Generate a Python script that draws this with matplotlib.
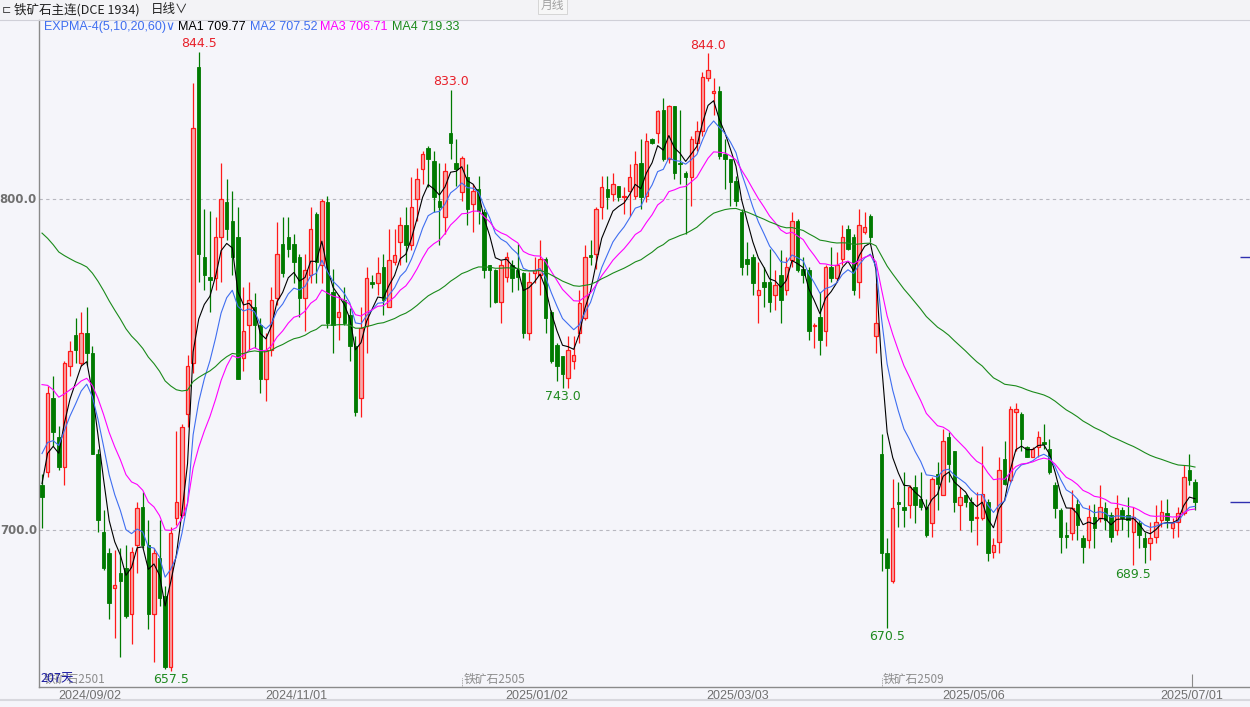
import numpy as np
import matplotlib
matplotlib.use("Agg")
import matplotlib.pyplot as plt
from matplotlib.patches import Rectangle
from matplotlib.lines import Line2D

plt.rcParams['font.family'] = ['Noto Sans CJK SC', 'DejaVu Sans']

W, H = 1250, 707

# daily OHLC, iron ore main contract
opens = [713.5, 717.5, 740, 728, 719, 749.5, 759, 750.5, 759.5, 753.5,
         723, 699.5, 693, 682.5, 687, 688.5, 674.5, 695.5, 707, 695.5,
         674.5, 691.5, 680, 658.5, 703.5, 704.5, 735, 750.5, 840, 782.5,
         776.5, 776, 788.5, 799, 793.5, 788.5,
         752, 762, 767.5, 762, 745.5, 754.5, 770, 786.5, 788.5, 786.5,
         782.5, 770, 777, 795.5, 780, 799, 772, 764.5, 769.5, 765,
         755.5, 740, 761.5, 774.8, 774.5, 779.5, 767.5, 781, 787, 792,
         786, 800, 809, 815.5, 811.5,
         799.5, 794.5, 820, 811, 802, 806.5, 798.5, 803, 796, 780,
         778.5, 769, 776.5, 780, 778.5, 777.5, 759.5, 777.5, 777, 782,
         766, 756, 752.5, 746, 751, 759.5, 764, 783, 783.5, 797.5,
         803, 801.5, 804, 800.5, 802.5, 801,
         811, 801, 818, 820, 827, 812, 828, 811, 808, 806.5,
         817, 820.5, 836.5, 832, 832.5, 813.5, 812, 805.5, 796, 782,
         782.5, 771, 775, 775, 771, 777, 772.5, 781.5, 793.5, 779,
         778.5, 761.5, 764.5, 760, 779.5, 776,
         782, 791, 788.5, 775, 790, 795, 758.5, 723, 693, 684.5,
         708.5, 707, 707.5, 713, 709.5, 707, 702, 717, 710.5, 728,
         724, 707.5, 710.5, 708.5, 703.5, 703.5, 708.5, 693.5, 696.5, 721.5,
         715, 735.5, 735, 725, 722,
         725, 726.5, 724.5, 713.5, 706, 698.5, 699, 708, 697.5, 697,
         704, 703.5, 706.5, 704.5, 700, 706, 704.5, 699.5, 702, 697.5,
         696, 698, 703, 705, 700.5, 702.5, 705, 718, 714.5]
highs = [717, 743.5, 746.5, 731.5, 751, 757, 764, 766, 767.5, 755.5,
         724.5, 706, 694.5, 694, 694.5, 695.5, 695, 708.5, 711.5, 703,
         694.5, 703, 683, 701, 730, 732, 753, 835, 844.5, 797,
         796.5, 794.5, 811, 806, 802.5, 797.5,
         773.5, 775, 771.5, 764, 759.5, 773.5, 793, 794.5, 794.5, 789.5,
         783.5, 783.5, 797.5, 796, 800, 801, 779, 771, 773.5, 767,
         758.5, 767.5, 779.5, 777, 782.5, 783.5, 791, 791, 794.5, 797.5,
         806.5, 809.5, 814.5, 816, 814.5,
         811, 811, 833, 818, 813, 810.5, 804.5, 807, 797, 780,
         779, 781.5, 784, 781.5, 786.5, 778, 778, 782.5, 787.5, 782.5,
         766.5, 756.5, 752.5, 758.5, 758.5, 772.5, 786, 787.5, 797.5, 807,
         807, 808, 804, 803.5, 810.5, 814.5,
         818, 820, 818.5, 827, 830.5, 828.5, 828, 827, 808.5, 819,
         823.5, 838.5, 844, 836.5, 834, 818, 812, 807, 797, 787,
         783.5, 781, 779.5, 785, 778.5, 784.5, 782.5, 796, 794, 782.5,
         779.5, 762.5, 772, 780, 785.5, 784,
         792, 792, 789.5, 797, 796, 795.5, 774.5, 729, 697.5, 715.5,
         714.5, 717.5, 713.5, 716.5, 717.5, 709.5, 716, 720.5, 730.5, 729.5,
         724, 713, 711, 710, 711.5, 725.5, 709.5, 697.5, 722, 727,
         737.5, 738.5, 735.5, 725.5, 725,
         730, 732, 727.5, 714.5, 706.5, 702.5, 712, 709.5, 698.5, 707.5,
         708, 713.5, 708.5, 705.5, 710.5, 707, 710, 707, 703, 699.5,
         702.5, 707.5, 709, 709.5, 703.5, 707, 719.5, 723, 715.5]
lows = [700.5, 716, 725.5, 718, 713.5, 746.5, 750.5, 749.5, 750, 723,
        699.5, 688, 673, 667.5, 661.5, 673.5, 665.5, 687, 694.5, 670,
        660, 677, 658, 657.5, 701.5, 703.5, 731, 747.5, 775, 772.5,
        766, 772.5, 775, 787.5, 777, 745.5,
        748, 754.5, 755, 741.5, 739, 752.5, 768, 776.5, 782.5, 774.5,
        764.5, 760, 774.5, 774.5, 774.5, 761, 753.5, 757.5, 762, 751,
        734.5, 734, 753.5, 773, 771, 765, 767.5, 780, 780, 781,
        784.5, 793.5, 804.5, 803.5, 796,
        786, 789.5, 812, 804, 799.5, 792, 790, 792.5, 776, 767.5,
        768.5, 762.5, 775, 772, 772.5, 758, 757.5, 774.5, 771, 759.5,
        750.5, 745, 743, 743, 748.5, 756.5, 763.5, 780, 779, 794,
        797, 799.5, 799.5, 795.5, 795, 800,
        797, 799, 816.5, 817, 811.5, 811, 806, 804.5, 789.5, 798,
        814.5, 819, 835.5, 825.5, 812, 803, 798, 798, 777, 777,
        771, 762.5, 767.5, 766, 766.5, 762.5, 771, 779.5, 778, 774.5,
        757.5, 755, 753, 755.5, 775, 775,
        780, 784.5, 771, 770, 789.5, 787, 753.5, 687.5, 670.5, 684,
        701, 701, 703.5, 702, 706, 698, 698, 706, 710.5, 714.5,
        705.5, 700, 707, 699.5, 695.5, 703, 690.5, 691.5, 693, 713.5,
        714.5, 724, 724, 722, 722,
        722, 724.5, 717, 703.5, 693, 694.5, 697, 697, 690, 694.5,
        694.5, 702.5, 700, 696.5, 698.5, 700, 698, 689.5, 694.5, 690,
        691, 696, 701, 700.5, 697.5, 698, 704.5, 713.5, 706]
closes = [710, 741.5, 729.5, 719, 750.5, 754, 754.5, 759.5, 753.5, 723,
          703, 688.5, 678, 683.5, 684.5, 674, 693.5, 706.5, 695.5, 674.5,
          693, 679.5, 658.5, 699, 708.5, 731, 749.5, 821.5, 783.5, 777,
          775.5, 788.5, 800, 791, 782.5, 745.5,
          760, 769.5, 762, 745.5, 754.5, 769.5, 783.5, 777.5, 785, 781,
          770, 778.5, 791, 781, 799.5, 762.5, 762, 766, 762.5, 755.5,
          735.5, 761, 776, 774.3, 777.5, 769.5, 781.5, 783, 792, 786,
          797.5, 806, 813.5, 812, 800.5,
          797.5, 808.5, 817, 809, 812.5, 797, 802.5, 796.5, 778.5, 778.5,
          769, 780, 782.5, 776, 776.5, 759.5, 775, 778.5, 782, 764,
          751, 749.5, 747, 754.5, 753, 768.5, 782.5, 782.5, 797, 803.5,
          800.5, 804.5, 800.5, 801, 806.5, 810.5,
          800.5, 817.5, 817, 826.5, 812, 828, 808, 810.5, 806.5, 818,
          820.5, 837, 839, 832.5, 813, 812, 805, 799.5, 779.5, 780.5,
          774.5, 772.5, 773.5, 769, 774, 769.5, 779.5, 793.5, 778.5, 777,
          760, 762, 757.5, 779.5, 776, 780,
          788.5, 785, 772.5, 792, 791.5, 788.5, 762.5, 693, 688.5, 706.5,
          708, 706, 713, 707.5, 707, 698.5, 715.5, 714, 727, 720,
          708.5, 710, 708.5, 703, 704, 711, 693, 695.5, 718, 714,
          736.5, 736.5, 727.5, 722, 724.5,
          728, 726, 717.5, 706.5, 698, 698, 706.5, 701.5, 695, 704,
          700.5, 707, 703, 698, 706.5, 703.5, 703, 704, 698.5, 695,
          697.5, 702.5, 705.5, 703, 702, 705, 716, 715, 708.5]

# EXPMA periods and the values carried in from before the window
periods = [5, 10, 20, 60]
ema_seeds = [716, 726, 747.5, 792.4]
ma_colors = ['#000000', '#3f6ef0', '#ff00ff', '#1a8a1a']
ma_latest = [709.77, 707.52, 706.71, 719.33]

date_labels = ['2024/09/02', '2024/11/01', '2025/01/02', '2025/03/03', '2025/05/06', '2025/07/01']
date_idx = [8.6, 45.4, 88.4, 124.2, 166.4, 205.5]

contracts = ['铁矿石2501', '铁矿石2505', '铁矿石2509']
contract_idx = [0, 75, 150]

marks = [(28, '844.5', 'high'), (73, '833.0', 'high'), (119, '844.0', 'high'),
         (23, '657.5', 'low'), (93, '743.0', 'low'), (151, '670.5', 'low'),
         (195, '689.5', 'low')]

bg = '#f5f5fa'
up_edge = '#ff1a1a'
up_face = '#f6a9a9'
down_col = '#007a00'


def px(x, y):
    return x / W, 1 - y / H


def ema(vals, n, seed):
    a = 2.0 / (n + 1)
    out = []
    e = seed
    for v in vals:
        e = e + a * (v - e)
        out.append(e)
    return out


fig = plt.figure(figsize=(W / 100, H / 100), dpi=100, facecolor=bg)
x0, x1 = 39, 1250
ytop, ybot = 20, 687
ax = fig.add_axes([x0 / W, 1 - ybot / H, (x1 - x0) / W, (ybot - ytop) / H])
ax.set_facecolor(bg)

n = len(closes)
idx = np.arange(n)
step = 5.597
ax.set_xlim(-(42 - x0) / step, (x1 - 42) / step)
ax.set_ylim(700 - (ybot - 530) / 3.31, 700 + (530 - ytop) / 3.31)

for s in ['top', 'right']:
    ax.spines[s].set_visible(False)
for s in ['left', 'bottom']:
    ax.spines[s].set_color('#8a8a8a')
    ax.spines[s].set_linewidth(1.0)
ax.set_xticks([])
ax.set_yticks([])

for lvl in [700, 800]:
    ax.axhline(lvl, color='#b8b8c0', lw=0.8, ls=(0, (3, 3)), zorder=0)

bw = 0.62
for i in range(n):
    o, h, l, c = opens[i], highs[i], lows[i], closes[i]
    if c >= o:
        ax.vlines(i, l, h, color=up_edge, lw=0.9, zorder=2)
        ax.add_patch(Rectangle((i - bw / 2, o), bw, max(c - o, 0.3),
                               facecolor=up_face, edgecolor=up_edge, lw=0.9, zorder=3))
    else:
        ax.vlines(i, l, h, color=down_col, lw=0.9, zorder=2)
        ax.add_patch(Rectangle((i - bw / 2, c), bw, max(o - c, 0.3),
                               facecolor=down_col, edgecolor=down_col, lw=0.6, zorder=3))

for p, sd, col in zip(periods, ema_seeds, ma_colors):
    ax.plot(idx, ema(closes, p, sd), color=col, lw=0.8, zorder=4)

for i, txt, kind in marks:
    if kind == 'high':
        ax.annotate(txt, (i, highs[i]), xytext=(0, 1), textcoords='offset points',
                    ha='center', va='bottom', color='#e8202a', fontsize=9,
                    family='DejaVu Sans')
    else:
        ax.annotate(txt, (i, lows[i]), xytext=(0, -2), textcoords='offset points',
                    ha='center', va='top', color='#1f8a1f', fontsize=9,
                    family='DejaVu Sans')

# contract roll markers along the bottom
for ci, name in zip(contract_idx, contracts):
    ax.annotate(name, (ci, 0), xycoords=('data', 'axes fraction'), xytext=(1, 1),
                textcoords='offset points', ha='left', va='bottom',
                color='#8c8c8c', fontsize=8.5)
    if ci > 0:
        ax.vlines(ci, 0, 0.015, transform=ax.get_xaxis_transform(),
                  color='#8c8c8c', lw=0.6, ls=(0, (1, 1)))
fig.text(*px(40, 679), '207天', color='#1a1aa0', fontsize=9, ha='left', va='center')

# date labels below the axis
for di, lab in zip(date_idx, date_labels):
    ax.annotate(lab, (di, 0), xycoords=('data', 'axes fraction'), xytext=(0, -2.5),
                textcoords='offset points', ha='center', va='top',
                color='#707070', fontsize=9, family='Liberation Sans')
ax.vlines(date_idx[-1], 0, 0.02, transform=ax.get_xaxis_transform(),
          color='#8a8a8a', lw=0.8)

# price axis labels
for lvl in [800, 700]:
    fig.text(*px(37, 530 - (lvl - 700) * 3.31), '%.1f' % lvl, ha='right', va='center',
             color='#707070', fontsize=8.5, fontweight='bold', family='DejaVu Sans')

# right-side price markers
for v, xs in [(782.5, 1240), (708.5, 1230)]:
    ax.hlines(v, (xs - 42) / step, (1250 - 42) / step, color='#3030b0', lw=1.0)

# header rows
fig.add_artist(Rectangle((0, 1 - 20 / H), 1, 20 / H, transform=fig.transFigure,
                         facecolor='#f3f3f6', edgecolor='none', zorder=-1))
fig.add_artist(Line2D([0, 1], [1 - 20 / H] * 2, transform=fig.transFigure,
                      color='#d0d0d8', lw=0.8))
fig.add_artist(Line2D([0, 1], [1 - 700 / H] * 2, transform=fig.transFigure,
                      color='#d8d8de', lw=1.5))
fig.text(*px(2, 10), '⊏', color='#404040', fontsize=8, va='center')
fig.text(*px(14, 10), '铁矿石主连(DCE 1934)', color='#202020', fontsize=9, va='center')
fig.text(*px(151, 10), '日线∨', color='#202020', fontsize=9, va='center')
fig.text(*px(541, 5), '月线', color='#a0a0a0', fontsize=8.5, va='center',
         bbox=dict(boxstyle='square,pad=0.25', facecolor='#f7f7f7', edgecolor='#d0d0d0', lw=0.6))

legend_x = [44, 178, 250, 320, 392]
fig.text(*px(legend_x[0], 27), 'EXPMA-4(5,10,20,60)∨', color='#3f6ef0', fontsize=9,
         va='center', family=['Liberation Sans', 'DejaVu Sans'])
for k in range(4):
    fig.text(*px(legend_x[k + 1], 27), 'MA%d %.2f' % (k + 1, ma_latest[k]), color=ma_colors[k],
             fontsize=9, va='center', family='Liberation Sans')

fig.savefig('out.png', dpi=100, facecolor=bg)
